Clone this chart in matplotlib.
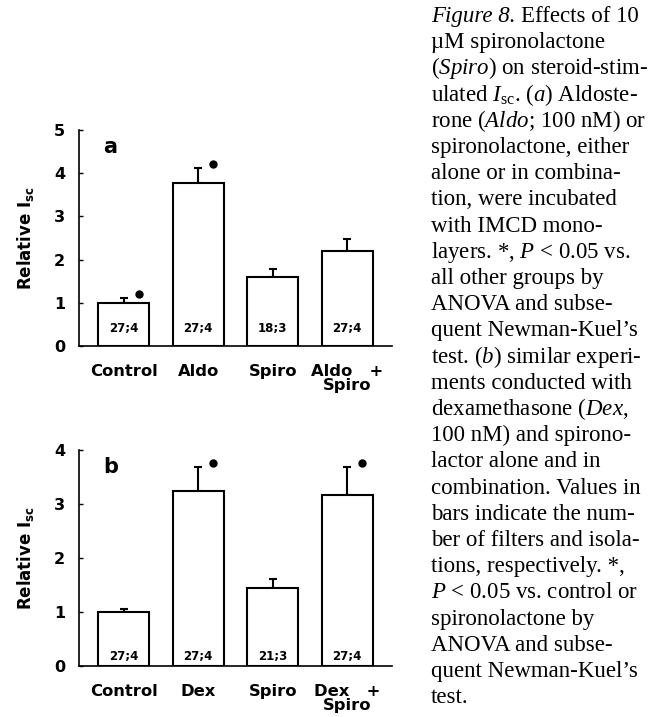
import matplotlib.pyplot as plt
import numpy as np

# values (relative Isc, mean and upper error)
groups_a = ['Control', 'Aldo', 'Spiro', 'Aldo   +\nSpiro']
mean_a = [1.00, 3.77, 1.60, 2.19]
sem_a = [0.10, 0.35, 0.19, 0.29]
n_a = ['27;4', '27;4', '18;3', '27;4']
sig_a = [True, True, False, False]

groups_b = ['Control', 'Dex', 'Spiro', 'Dex   +\nSpiro']
mean_b = [1.00, 3.25, 1.44, 3.17]
sem_b = [0.06, 0.43, 0.17, 0.51]
n_b = ['27;4', '27;4', '21;3', '27;4']
sig_b = [False, True, False, True]

caption_head = 'Figure 8.'
caption = [
    'Effects of 10',
    'µM spironolactone',
    r'($\mathit{Spiro}$) on steroid-stim-',
    r'ulated $I_{\mathrm{sc}}$. ($\mathit{a}$) Aldoste-',
    r'rone ($\mathit{Aldo}$; 100 nM) or',
    'spironolactone, either',
    'alone or in combina-',
    'tion, were incubated',
    'with IMCD mono-',
    r'layers. *, $\mathit{P}$ < 0.05 vs.',
    'all other groups by',
    'ANOVA and subse-',
    'quent Newman-Kuel’s',
    r'test. ($\mathit{b}$) similar experi-',
    'ments conducted with',
    r'dexamethasone ($\mathit{Dex}$,',
    '100 nM) and spirono-',
    'lactor alone and in',
    'combination. Values in',
    'bars indicate the num-',
    'ber of filters and isola-',
    'tions, respectively. *,',
    r'$\mathit{P}$ < 0.05 vs. control or',
    'spironolactone by',
    'ANOVA and subse-',
    'quent Newman-Kuel’s',
    'test.',
]

plt.rcParams['mathtext.fontset'] = 'custom'
plt.rcParams['mathtext.rm'] = 'Liberation Serif'
plt.rcParams['mathtext.it'] = 'Liberation Serif:italic'
plt.rcParams['mathtext.bf'] = 'Liberation Serif:bold'

W, H = 665, 717
fig = plt.figure(figsize=(W / 100, H / 100), dpi=100)


def panel(rect, groups, mean, sem, nlab, sig, ymax, letter, nlab_y):
    ax = fig.add_axes(rect)
    x = np.arange(len(groups))
    ax.bar(x, mean, width=0.68, color='white', edgecolor='black', linewidth=1.5, zorder=2)
    ax.errorbar(x, mean, yerr=[np.zeros(len(x)), sem], fmt='none', ecolor='black',
                elinewidth=1.5, capsize=3, capthick=1.5, zorder=1)
    for i in range(len(x)):
        ax.text(x[i], nlab_y, nlab[i], ha='center', va='center', fontsize=8.5,
                fontweight='bold', family='DejaVu Sans')
        if sig[i]:
            ax.plot(x[i] + 0.2, mean[i] + sem[i] + 0.02 * ymax, 'o', color='black',
                    markersize=5, clip_on=False)
    ax.set_xlim(-0.6, 3.6)
    ax.set_ylim(0, ymax)
    ax.set_xticks(x)
    ax.set_xticklabels(groups, fontsize=11.8, fontweight='bold', family='DejaVu Sans',
                       linespacing=0.9)
    ax.set_yticks(np.arange(ymax + 1))
    ax.set_yticklabels([str(v) for v in range(ymax + 1)], fontsize=11.5,
                       fontweight='bold', family='DejaVu Sans')
    ax.tick_params(axis='x', length=0, pad=13)
    ax.tick_params(axis='y', direction='in', length=3, width=1, pad=10)
    for s in ['top', 'right']:
        ax.spines[s].set_visible(False)
    for s in ['left', 'bottom']:
        ax.spines[s].set_linewidth(1.2)
    ax.text(0.1, 0.92, letter, transform=ax.transAxes, ha='center', va='center',
            fontsize=15, fontweight='bold', family='DejaVu Sans')
    ax.text(-0.172, 0.5, r'Relative I$_{\mathbf{sc}}$', transform=ax.transAxes,
            rotation=90, ha='center', va='center', fontsize=12, fontweight='bold',
            family='DejaVu Sans', math_fontfamily='dejavusans')
    return ax


panel([79 / W, (H - 346) / H, 313 / W, 216 / H], groups_a, mean_a, sem_a, n_a, sig_a,
      5, 'a', 0.4)
panel([79 / W, (H - 666) / H, 313 / W, 216 / H], groups_b, mean_b, sem_b, n_b, sig_b,
      4, 'b', 0.17)

cap_x = 431
cap_fs = 16.5
for i, line in enumerate(caption):
    y = 1 - (22 + 26.2 * i) / H
    x = cap_x
    if i == 0:
        head = fig.text(cap_x / W, y, caption_head, ha='left', va='baseline',
                        fontsize=cap_fs, family='Liberation Serif', style='italic')
        bb = head.get_window_extent(renderer=fig.canvas.get_renderer())
        x = bb.x1 + 0.25 * cap_fs * 100 / 72
    fig.text(x / W, y, line, ha='left', va='baseline', fontsize=cap_fs,
             family='Liberation Serif')

fig.savefig('out.png', dpi=100)
